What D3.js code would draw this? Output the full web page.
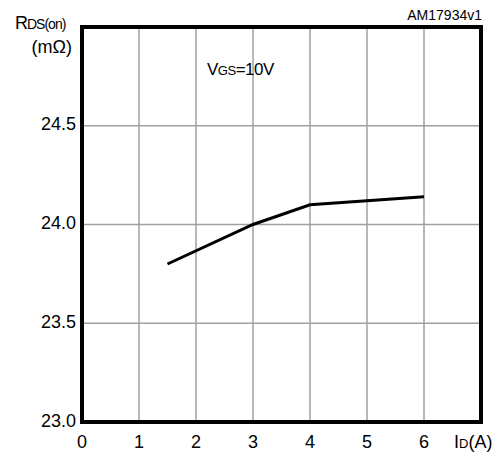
<!DOCTYPE html>
<html>
<head>
<meta charset="utf-8">
<script src="https://cdn.jsdelivr.net/npm/d3@7"></script>
<style>
  body { margin: 0; background: #fff; }
  text { font-family: "Liberation Sans", Arial, sans-serif; fill: #000; }
</style>
</head>
<body>
<svg id="chart" width="500" height="452"></svg>
<script>
// curve
var idValues = [1.5, 3, 4, 6];
var rdsValues = [23.8, 24.0, 24.1, 24.14];

var xTicks = [0, 1, 2, 3, 4, 5, 6];
var xGrid = [1, 2, 3, 4, 5, 6];
var yTicks = [23.0, 23.5, 24.0, 24.5];
var yGrid = [23.5, 24.0, 24.5];

var svg = d3.select("#chart");

var plotLeft = 82, plotRight = 481, plotTop = 27, plotBottom = 422;

var x = d3.scaleLinear().domain([0, 7]).range([plotLeft, plotRight]);
var y = d3.scaleLinear().domain([23.0, 25.0]).range([plotBottom, plotTop]);

// grid
svg.selectAll(".vgrid")
  .data(xGrid)
  .enter()
  .append("line")
    .attr("class", "vgrid")
    .attr("x1", function(d) { return x(d); })
    .attr("x2", function(d) { return x(d); })
    .attr("y1", plotTop).attr("y2", plotBottom)
    .attr("stroke", "#a0a0a0")
    .attr("stroke-width", 1.5);

svg.selectAll(".hgrid")
  .data(yGrid)
  .enter()
  .append("line")
    .attr("class", "hgrid")
    .attr("y1", function(d) { return y(d); })
    .attr("y2", function(d) { return y(d); })
    .attr("x1", plotLeft).attr("x2", plotRight)
    .attr("stroke", "#a0a0a0")
    .attr("stroke-width", 1.5);

// frame
svg.append("rect")
  .attr("x", plotLeft).attr("y", plotTop)
  .attr("width", plotRight - plotLeft).attr("height", plotBottom - plotTop)
  .attr("fill", "none")
  .attr("stroke", "#000")
  .attr("stroke-width", 4);

// curve
var line = d3.line()
  .x(function(d, i) { return x(idValues[i]); })
  .y(function(d) { return y(d); });

svg.append("path")
  .datum(rdsValues)
  .attr("d", line)
  .attr("fill", "none")
  .attr("stroke", "#000")
  .attr("stroke-width", 3);

// tick labels
svg.selectAll(".ylab")
  .data(yTicks)
  .enter()
  .append("text")
    .attr("class", "ylab")
    .attr("x", 76)
    .attr("y", function(d) { return y(d) + 4.5; })
    .attr("text-anchor", "end")
    .style("font-size", "18px")
    .text(function(d) { return d.toFixed(1); });

svg.selectAll(".xlab")
  .data(xTicks)
  .enter()
  .append("text")
    .attr("class", "xlab")
    .attr("x", function(d) { return x(d); })
    .attr("y", 448)
    .attr("text-anchor", "middle")
    .style("font-size", "18px")
    .text(function(d) { return d; });

// axis titles
var xTitle = svg.append("text")
  .attr("x", 454).attr("y", 448)
  .style("font-size", "18px");
xTitle.append("tspan").text("I");
xTitle.append("tspan").style("font-size", "13px").text("D");
xTitle.append("tspan").text("(A)");

var yTitle = svg.append("text")
  .attr("x", 15).attr("y", 29)
  .style("font-size", "18px")
  .style("letter-spacing", "-1px");
yTitle.append("tspan").text("R");
yTitle.append("tspan").style("font-size", "14px").text("DS(on)");

svg.append("text")
  .attr("x", 72).attr("y", 53)
  .attr("text-anchor", "end")
  .style("font-size", "18px")
  .text("(m\u03A9)");

var vgs = svg.append("text")
  .attr("x", 207).attr("y", 75)
  .style("font-size", "17px")
  .style("letter-spacing", "-0.5px");
vgs.append("tspan").text("V");
vgs.append("tspan").style("font-size", "13px").text("GS");
vgs.append("tspan").text("=10V");

svg.append("text")
  .attr("x", 482).attr("y", 20)
  .attr("text-anchor", "end")
  .style("font-size", "14px")
  .text("AM17934v1");
</script>
</body>
</html>
